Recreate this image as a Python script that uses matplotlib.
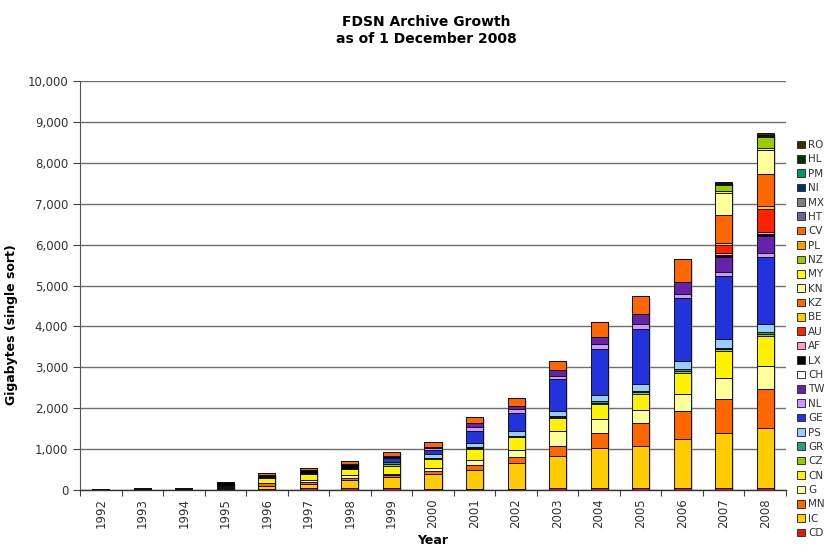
import matplotlib
matplotlib.use('Agg')
import matplotlib.pyplot as plt
import numpy as np
import matplotlib.transforms as mtransforms
from matplotlib.ticker import FuncFormatter, MultipleLocator, FixedLocator
from matplotlib.patches import Patch

plt.rcParams['font.family'] = ['DejaVu Sans']

years = [str(y) for y in range(1992, 2009)]

# Gigabytes per network per year (1992 .. 2008), stacked bottom to top
CD = [5, 0, 0, 20, 20, 41, 41, 40, 30, 30, 35, 40, 40, 40, 40, 40, 40]
IC = [5, 15, 15, 30, 80, 106, 203, 270, 361, 459, 617, 791, 979, 1044, 1207, 1346, 1483]
MN = [0, 0, 0, 30, 79, 50, 60, 60, 81, 122, 147, 245, 367, 546, 685, 831, 939]
G  = [0, 0, 0, 0, 0, 47, 63, 30, 74, 122, 179, 367, 342, 326, 408, 514, 570]
CN = [0, 0, 0, 20, 106, 139, 138, 195, 204, 270, 310, 325, 375, 391, 528, 667, 733]
CZ = [0, 0, 0, 0, 0, 0, 0, 40, 16, 20, 20, 25, 35, 40, 40, 40, 56]
GR = [0, 0, 0, 0, 0, 0, 0, 42, 16, 20, 20, 24, 38, 42, 43, 41, 50]
PS = [0, 0, 0, 0, 0, 0, 0, 0, 88, 98, 115, 115, 147, 163, 203, 205, 188]
GE = [0, 0, 0, 0, 0, 0, 0, 97, 108, 310, 447, 774, 1132, 1352, 1533, 1548, 1630]
NL = [0, 0, 0, 0, 0, 0, 0, 0, 40, 82, 98, 89, 107, 115, 105, 106, 105]
TW = [0, 0, 0, 0, 0, 0, 0, 0, 41, 97, 66, 139, 171, 236, 286, 366, 416]
CH = [0, 0, 0, 0, 0, 0, 0, 0, 0, 0, 0, 0, 0, 0, 0, 10, 12]
LX = [10, 30, 40, 88, 82, 106, 130, 65, 0, 0, 0, 0, 0, 0, 0, 20, 30]
AF = [0, 0, 0, 0, 0, 0, 0, 0, 0, 0, 0, 0, 0, 0, 0, 68, 65]
AU = [0, 0, 0, 0, 0, 0, 0, 0, 0, 0, 0, 0, 0, 0, 0, 188, 546]
BE = [0, 0, 0, 0, 0, 0, 0, 0, 0, 0, 0, 0, 0, 0, 0, 42, 81]
KZ = [0, 0, 0, 0, 40, 57, 82, 82, 116, 163, 187, 228, 383, 456, 562, 692, 782]
KN = [0, 0, 0, 0, 0, 0, 0, 0, 0, 0, 0, 0, 0, 0, 0, 545, 587]
MY = [0, 0, 0, 0, 0, 0, 0, 0, 0, 0, 0, 0, 0, 0, 0, 49, 41]
NZ = [0, 0, 0, 0, 0, 0, 0, 0, 0, 0, 0, 0, 0, 0, 0, 139, 269]
PL = [0] * 17
CV = [0] * 17
HT = [0, 0, 0, 0, 0, 0, 0, 0, 0, 0, 0, 0, 0, 0, 0, 5, 6]
MX = [0, 0, 0, 0, 0, 0, 0, 0, 0, 0, 0, 0, 0, 0, 0, 5, 6]
NI = [0, 0, 0, 0, 0, 0, 0, 0, 0, 0, 0, 0, 0, 0, 0, 15, 20]
PM = [0, 0, 0, 0, 0, 0, 0, 0, 0, 0, 0, 0, 0, 0, 0, 5, 6]
HL = [0, 0, 0, 0, 0, 0, 0, 0, 0, 0, 0, 0, 0, 0, 0, 18, 30]
RO = [0, 0, 0, 0, 0, 0, 0, 0, 0, 0, 0, 0, 0, 0, 0, 18, 30]

networks = ['CD', 'IC', 'MN', 'G', 'CN', 'CZ', 'GR', 'PS', 'GE', 'NL', 'TW', 'CH',
            'LX', 'AF', 'AU', 'BE', 'KZ', 'KN', 'MY', 'NZ', 'PL', 'CV', 'HT', 'MX',
            'NI', 'PM', 'HL', 'RO']
series = [CD, IC, MN, G, CN, CZ, GR, PS, GE, NL, TW, CH, LX, AF, AU, BE, KZ, KN,
          MY, NZ, PL, CV, HT, MX, NI, PM, HL, RO]
colors = {
    'CD': '#E01A10', 'IC': '#FFCC00', 'MN': '#FF6600', 'G': '#FFFF99',
    'CN': '#FFF200', 'CZ': '#99CC00', 'GR': '#2E9C78', 'PS': '#99CCFF',
    'GE': '#2233DD', 'NL': '#CC99FF', 'TW': '#6622AA', 'CH': '#FFFFFF',
    'LX': '#000000', 'AF': '#FF99CC', 'AU': '#FF2200', 'BE': '#FFCC00',
    'KZ': '#FF6600', 'KN': '#FFFF99', 'MY': '#FFFF00', 'NZ': '#99CC00',
    'PL': '#FF9900', 'CV': '#FF6600', 'HT': '#666699', 'MX': '#808080',
    'NI': '#003366', 'PM': '#009966', 'HL': '#003300', 'RO': '#333300',
}

W, H = 835, 553
fig = plt.figure(figsize=(W / 100, H / 100), dpi=100)
ax = fig.add_axes([80 / W, 1 - 490 / H, (786 - 80) / W, (490 - 81) / H])

x = np.arange(len(years))
width = 0.41
totals = np.sum(np.array(series), axis=0)

# drop shadow behind each bar
shadow_tr = mtransforms.offset_copy(ax.transData, fig=fig, x=2, y=-2, units='dots')
ax.bar(x, totals, width=width, color='#999999', alpha=0.45, zorder=2,
       transform=shadow_tr, linewidth=0)

bottom = np.zeros(len(years))
for name, vals in zip(networks, series):
    v = np.array(vals, dtype=float)
    ax.bar(x, v, width=width, bottom=bottom, color=colors[name],
           edgecolor='#111111', linewidth=0.7, zorder=3)
    bottom += v

ax.set_xlim(-0.5, len(years) - 0.5)
ax.set_ylim(0, 10000)
ax.yaxis.set_major_locator(MultipleLocator(1000))
ax.yaxis.set_major_formatter(FuncFormatter(lambda v, p: f'{int(v):,}'))
ax.yaxis.grid(True, color='#6f6f6f', linewidth=1.0, zorder=0)
ax.set_axisbelow(True)

ax.set_xticks(x)
ax.set_xticklabels(years, rotation=90, fontsize=8.5, color='#333333')
ax.tick_params(axis='x', length=0, pad=6)
ax.xaxis.set_minor_locator(FixedLocator(np.arange(-0.5, len(years), 1.0)))
ax.tick_params(axis='x', which='minor', length=4, color='#444444', width=0.8)
ax.tick_params(axis='y', labelsize=8.5, length=5, color='#444444', width=0.8,
               labelcolor='#333333')

for s in ['top', 'right']:
    ax.spines[s].set_visible(False)
ax.spines['left'].set_color('#555555')
ax.spines['bottom'].set_color('#333333')
ax.spines['bottom'].set_linewidth(1.0)

ax.set_xlabel('Year', fontsize=9, fontweight='bold', labelpad=4)
ax.set_ylabel('Gigabytes (single sort)', fontsize=9, fontweight='bold')
ax.yaxis.set_label_coords((18 - 80) / (786 - 80), (490 - 325) / (490 - 81))

fig.text(426 / W, 1 - 15 / H, 'FDSN Archive Growth\nas of 1 December 2008',
         ha='center', va='top', fontsize=10, fontweight='bold', linespacing=1.25)

handles = [Patch(facecolor=colors[n], edgecolor='#333333', linewidth=0.7, label=n)
           for n in reversed(networks)]
leg = fig.legend(handles=handles, loc='upper left', bbox_to_anchor=(797 / W, 1 - 140 / H),
                 frameon=False, fontsize=7.5, handlelength=0.75, handleheight=0.75,
                 handletextpad=0.3, labelspacing=0.42, borderpad=0, borderaxespad=0)
for t in leg.get_texts():
    t.set_color('#333333')

fig.savefig('out.png', dpi=100)
